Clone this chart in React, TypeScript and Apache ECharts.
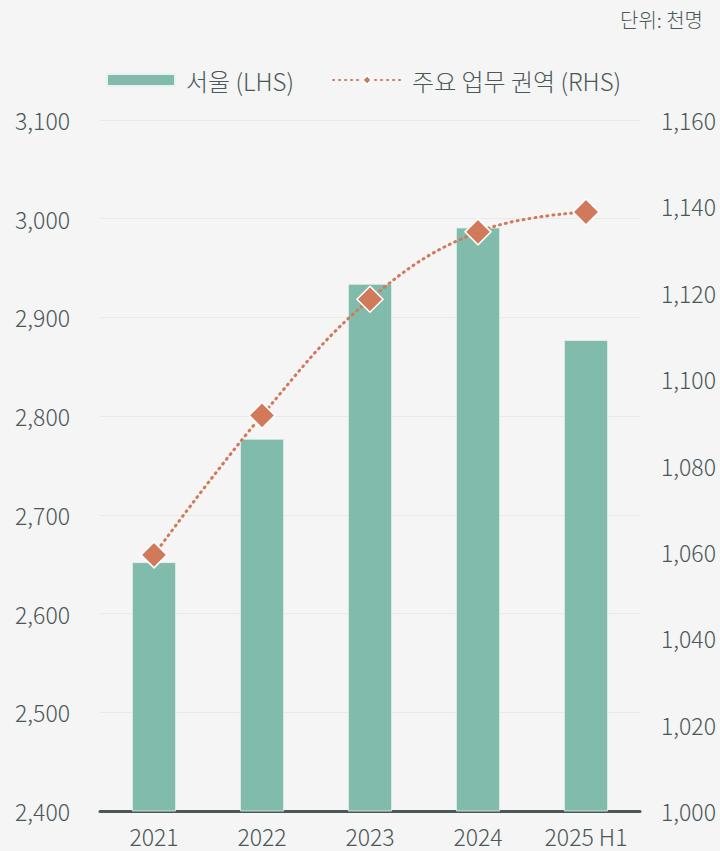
import React, { useEffect, useRef } from "react";
import * as echarts from "echarts";

const categories = ["2021", "2022", "2023", "2024", "2025 H1"];
const seoulValues = [2652, 2777, 2934, 2991, 2877];
const businessValues = [1059.3, 1091.6, 1118.5, 1134.1, 1138.7];
const seriesNames = ["서울 (LHS)", "주요 업무 권역 (RHS)"];
const unitLabel = "단위: 천명";

const FONT = "'Noto Sans CJK KR', 'Noto Sans', sans-serif";
const TEXT = "#4b5858";
const W = 300;

export default function App() {
  const ref = useRef<HTMLDivElement>(null);
  useEffect(() => {
    document.body.style.margin = "0";
    if (!ref.current) return;
    const chart = echarts.init(ref.current, null, { renderer: "svg" });
    chart.setOption({
      animation: false,
      backgroundColor: "#f5f5f5",
      textStyle: { fontFamily: FONT, fontWeight: W },
      graphic: [
        {
          type: "text",
          right: 17,
          top: 9,
          style: { text: unitLabel, fill: TEXT, font: `${W} 20px ${FONT}` },
        },
      ],
      legend: {
        top: 68,
        left: 106,
        padding: 0,
        itemGap: 38,
        itemWidth: 68,
        itemHeight: 12,
        textStyle: { color: TEXT, fontSize: 24, fontWeight: W, fontFamily: FONT, padding: [0, 0, 0, 6] },
        data: [
          { name: seriesNames[0], icon: "rect" },
          { name: seriesNames[1] },
        ],
      },
      grid: { left: 100, right: 80, top: 120, bottom: 40, containLabel: false },
      xAxis: {
        type: "category",
        data: categories,
        axisLine: { show: true, lineStyle: { color: "#4b5858", width: 3 } },
        axisTick: { show: false },
        axisLabel: { color: TEXT, fontSize: 23, fontWeight: W, margin: 13, fontFamily: FONT, interval: 0 },
      },
      yAxis: [
        {
          type: "value",
          min: 2400,
          max: 3100,
          interval: 100,
          axisLine: { show: false },
          axisTick: { show: false },
          splitLine: { show: true, lineStyle: { color: "#e9e9e9", width: 1 } },
          axisLabel: {
            color: TEXT,
            fontSize: 23,
            fontWeight: W,
            margin: 30,
            fontFamily: FONT,
            formatter: (v: number) => v.toLocaleString("en-US"),
          },
        },
        {
          type: "value",
          min: 1000,
          max: 1160,
          interval: 20,
          position: "right",
          axisLine: { show: false },
          axisTick: { show: false },
          splitLine: { show: false },
          axisLabel: {
            color: TEXT,
            fontSize: 23,
            fontWeight: W,
            margin: 21,
            fontFamily: FONT,
            formatter: (v: number) => v.toLocaleString("en-US"),
          },
        },
      ],
      series: [
        {
          name: seriesNames[0],
          type: "bar",
          yAxisIndex: 0,
          data: seoulValues,
          barWidth: 44,
          itemStyle: { color: "#80bbab", borderColor: "#e8f2ee", borderWidth: 0.8 },
        },
        {
          name: seriesNames[1],
          type: "line",
          yAxisIndex: 1,
          data: businessValues,
          smooth: 0.4,
          symbol: "diamond",
          symbolSize: 26,
          lineStyle: { color: "#d17a5b", width: 3, type: [1, 5], cap: "round" },
          itemStyle: { color: "#d17a5b", borderColor: "#ffffff", borderWidth: 1.5 },
          z: 5,
        },
      ],
    });
    return () => chart.dispose();
  }, []);
  return <div ref={ref} style={{ width: 720, height: 851 }} />;
}
